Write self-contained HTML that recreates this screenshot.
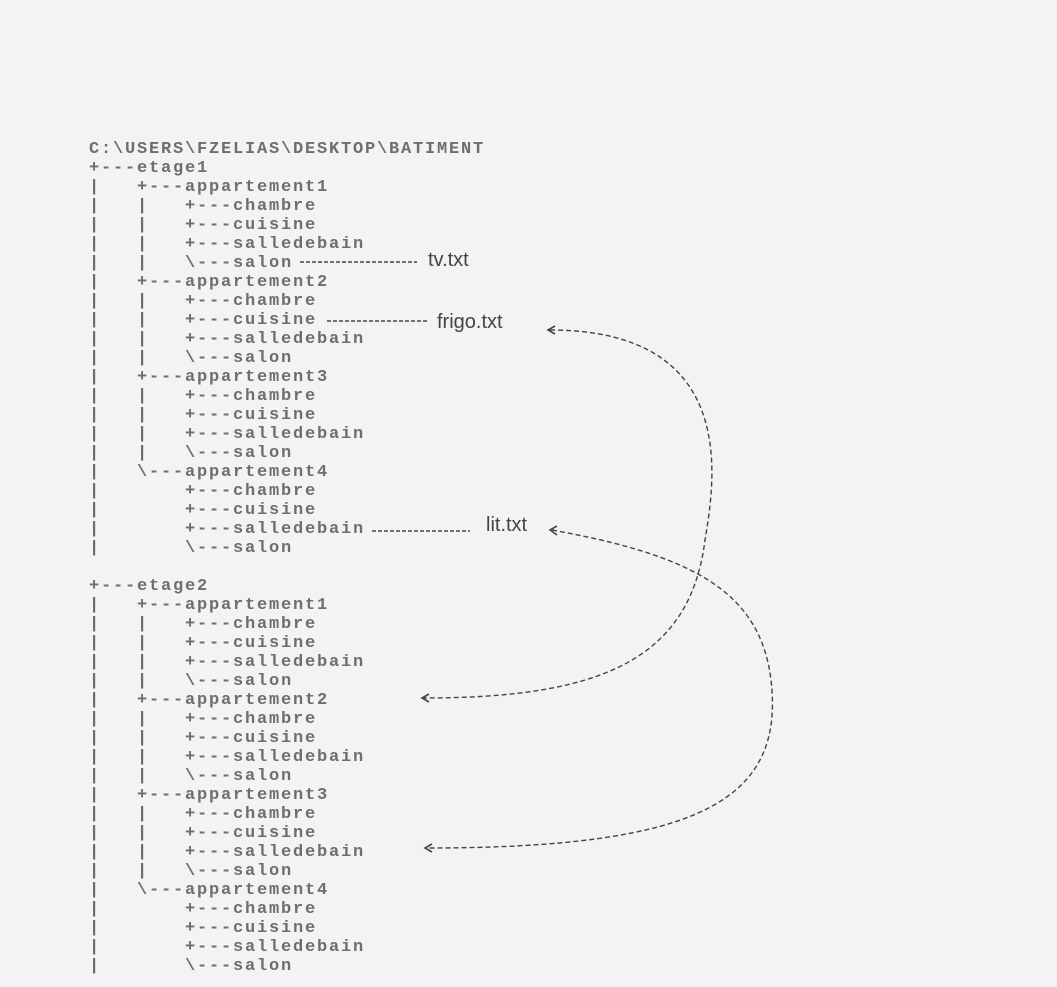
<!DOCTYPE html>
<html><head><meta charset="utf-8"><style>
html,body{margin:0;padding:0;background:#f3f2f5;}
body{width:1057px;height:987px;position:relative;overflow:hidden;}
pre{position:absolute;left:89px;top:140px;margin:0;font-family:"Liberation Mono",monospace;font-size:17px;letter-spacing:1.8px;line-height:19px;color:#6e6e6e;font-weight:bold;}
.l{position:absolute;font-family:"Liberation Sans",sans-serif;font-size:20px;color:#444;}
</style></head><body>
<pre>C:\USERS\FZELIAS\DESKTOP\BATIMENT
+---etage1
|   +---appartement1
|   |   +---chambre
|   |   +---cuisine
|   |   +---salledebain
|   |   \---salon
|   +---appartement2
|   |   +---chambre
|   |   +---cuisine
|   |   +---salledebain
|   |   \---salon
|   +---appartement3
|   |   +---chambre
|   |   +---cuisine
|   |   +---salledebain
|   |   \---salon
|   \---appartement4
|       +---chambre
|       +---cuisine
|       +---salledebain
|       \---salon

+---etage2
|   +---appartement1
|   |   +---chambre
|   |   +---cuisine
|   |   +---salledebain
|   |   \---salon
|   +---appartement2
|   |   +---chambre
|   |   +---cuisine
|   |   +---salledebain
|   |   \---salon
|   +---appartement3
|   |   +---chambre
|   |   +---cuisine
|   |   +---salledebain
|   |   \---salon
|   \---appartement4
|       +---chambre
|       +---cuisine
|       +---salledebain
|       \---salon</pre>
<div class="l" style="left:428px;top:249px;">tv.txt</div>
<div class="l" style="left:437px;top:311px;">frigo.txt</div>
<div class="l" style="left:486px;top:514px;">lit.txt</div>
<svg width="1057" height="987" style="position:absolute;left:0;top:0" fill="none" stroke="#444" stroke-width="1.4">
<g stroke-dasharray="4,2">
<line x1="300" y1="262" x2="417" y2="262"/>
<line x1="327" y1="321" x2="428" y2="321"/>
<line x1="372" y1="531" x2="470" y2="531"/>
</g>
<g stroke-dasharray="5,3">
<path d="M550 330 C740 330 715 480 705 540 C690 660 600 698 424 698"/>
<path d="M552 530 C690 555 760 590 771 680 C785 800 700 848 427 848"/>
</g>
<g stroke-width="1.6">
<path d="M555 326 L548 330 L555 334"/>
<path d="M557 526 L550 530 L557 535"/>
<path d="M429 694 L422 698 L429 702"/>
<path d="M432 844 L425 848 L432 852"/>
</g>
</svg>
</body></html>
